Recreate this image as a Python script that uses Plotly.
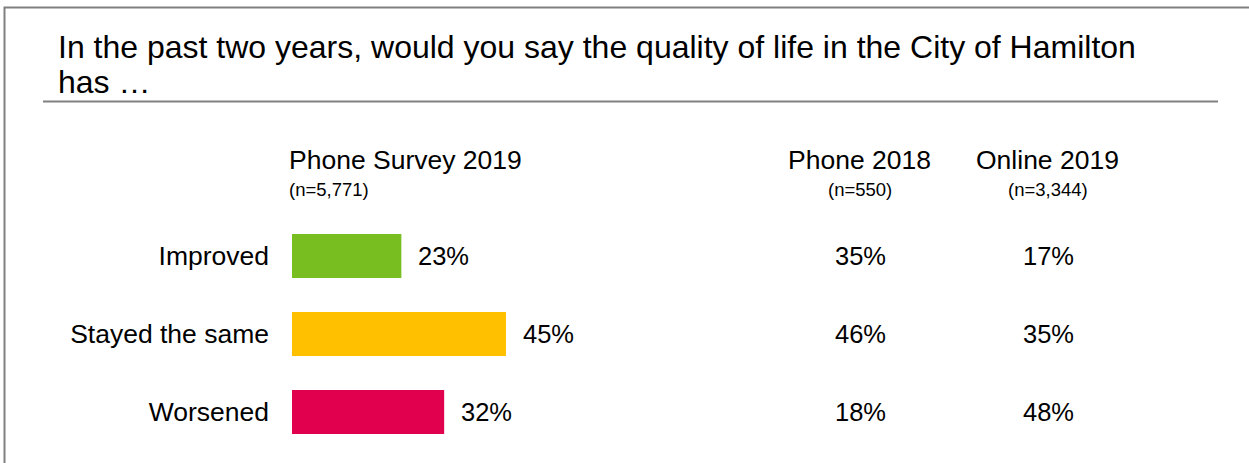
import plotly.graph_objects as go

W, H = 1249, 463

title_lines = ["In the past two years, would you say the quality of life in the City of Hamilton", "has \u2026"]
categories = ["Improved", "Stayed the same", "Worsened"]
phone_2019 = [23, 45, 32]
bar_colors = ["#78BE20", "#FFC000", "#E0004D"]
main_header = "Phone Survey 2019"
main_n = "(n=5,771)"
other_columns = ["Phone 2018", "Online 2019"]
other_n = ["(n=550)", "(n=3,344)"]
phone_2018 = [35, 46, 18]
online_2019 = [17, 35, 48]

FONT = "Liberation Sans, Arial, sans-serif"

def px_x(p):
    return p / W

def px_y(p):
    return 1 - p / H

fig = go.Figure()
fig.add_trace(go.Bar(
    x=phone_2019, y=categories, orientation="h",
    marker=dict(color=bar_colors, line=dict(width=0)),
    width=0.564, hoverinfo="skip", showlegend=False,
    xaxis="x", yaxis="y",
))

# invisible anchor trace so the table axis (x2) is active
fig.add_trace(go.Scatter(
    x=other_columns, y=[categories[0]] * len(other_columns), mode="markers",
    marker=dict(opacity=0), xaxis="x2", yaxis="y",
    showlegend=False, hoverinfo="skip",
))

annotations = []
# value labels for bars
for c, v in zip(categories, phone_2019):
    annotations.append(dict(
        x=v, y=c, xref="x", yref="y", text=f"{v}%", showarrow=False,
        xanchor="left", yanchor="middle", xshift=15,
        font=dict(family=FONT, size=25.5, color="#000000"),
    ))
# table columns (Phone 2018 / Online 2019)
for col, vals in zip(other_columns, [phone_2018, online_2019]):
    for c, v in zip(categories, vals):
        annotations.append(dict(
            x=col, y=c, xref="x2", yref="y", text=f"{v}%", showarrow=False,
            xanchor="center", yanchor="middle",
            font=dict(family=FONT, size=25.5, color="#000000"),
        ))
# headers
annotations.append(dict(
    x=0, y=px_y(160), xref="x", yref="paper", text=main_header, showarrow=False,
    xanchor="left", yanchor="middle", xshift=-5,
    font=dict(family=FONT, size=26.5, color="#000000"),
))
annotations.append(dict(
    x=0, y=px_y(189.5), xref="x", yref="paper", text=main_n, showarrow=False,
    xanchor="left", yanchor="middle", xshift=-5,
    font=dict(family=FONT, size=18.5, color="#000000"),
))
for col, n in zip(other_columns, other_n):
    annotations.append(dict(
        x=col, y=px_y(160), xref="x2", yref="paper", text=col, showarrow=False,
        xanchor="center", yanchor="middle", xshift=-1,
        font=dict(family=FONT, size=26.5, color="#000000"),
    ))
    annotations.append(dict(
        x=col, y=px_y(189.5), xref="x2", yref="paper", text=n, showarrow=False,
        xanchor="center", yanchor="middle",
        font=dict(family=FONT, size=18.5, color="#000000"),
    ))
# title
for line, cy in zip(title_lines, [47, 82]):
    annotations.append(dict(
        x=px_x(56), y=px_y(cy), xref="paper", yref="paper", text=line,
        showarrow=False, xanchor="left", yanchor="middle",
        font=dict(family=FONT, size=32, color="#000000"),
    ))

shapes = [
    # outer frame
    dict(type="rect", xref="paper", yref="paper",
         x0=px_x(4.5), x1=px_x(1260), y0=px_y(480), y1=px_y(7.5),
         line=dict(color="#808080", width=2), fillcolor="rgba(0,0,0,0)"),
    # title underline
    dict(type="line", xref="paper", yref="paper",
         x0=px_x(43), x1=px_x(1218), y0=px_y(101.5), y1=px_y(101.5),
         line=dict(color="#808080", width=2)),
]

x0_px = 292
px_per_pct = 4.755
fig.update_layout(
    width=W, height=H, autosize=False,
    margin=dict(l=0, r=0, t=0, b=0, pad=0),
    paper_bgcolor="white", plot_bgcolor="rgba(0,0,0,0)",
    font=dict(family=FONT, color="#000000"),
    showlegend=False,
    xaxis=dict(domain=[px_x(x0_px), 1], range=[0, (W - x0_px) / px_per_pct],
               visible=False, fixedrange=True),
    xaxis2=dict(domain=[px_x(766), px_x(1142)], type="category",
                categoryorder="array", categoryarray=other_columns,
                range=[-0.5, 1.5], visible=False, anchor="y", fixedrange=True),
    yaxis=dict(domain=[px_y(451), px_y(217)], type="category",
               categoryorder="array", categoryarray=categories,
               range=[2.5, -0.5], showgrid=False, zeroline=False, showline=False,
               ticks="", ticklabelstandoff=22,
               tickfont=dict(family=FONT, size=26.5, color="#000000"),
               fixedrange=True),
    annotations=annotations,
    shapes=shapes,
)

fig.write_html(
    "out.html",
    config={"displayModeBar": False},
    post_script="document.body.style.margin='0';document.body.style.overflow='hidden';",
)
